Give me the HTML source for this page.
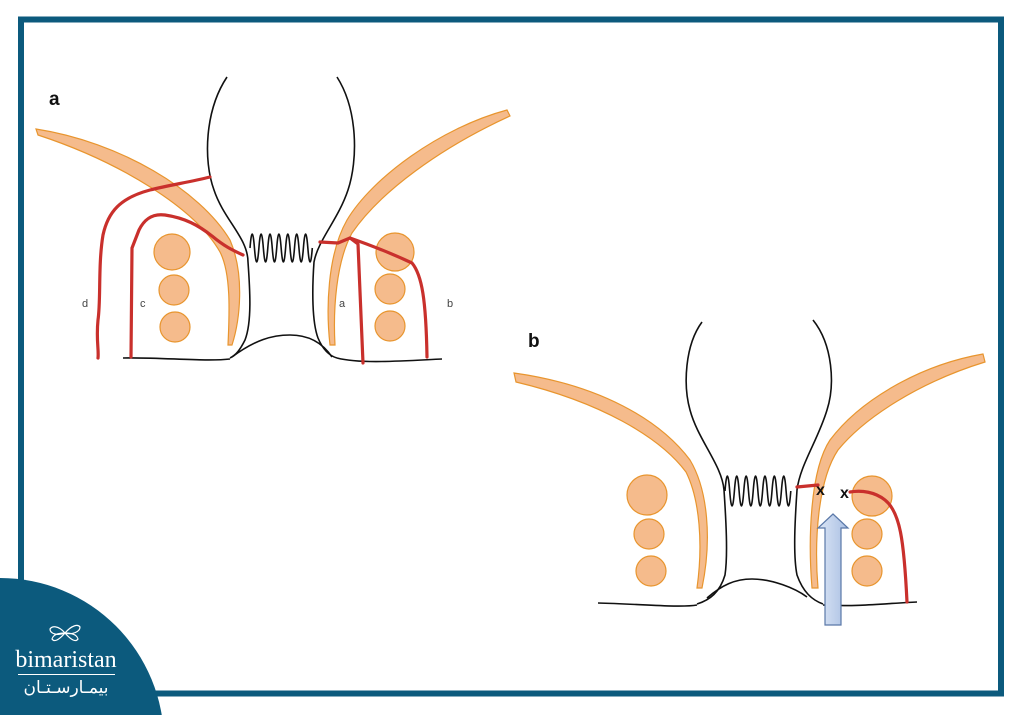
<!DOCTYPE html>
<html><head><meta charset="utf-8"><style>
html,body{margin:0;padding:0;background:#fff;width:1024px;height:715px;overflow:hidden}
svg{display:block;overflow:hidden;position:absolute;left:0;top:0}
</style></head><body>
<svg width="1024" height="715" viewBox="0 0 1024 715" xmlns="http://www.w3.org/2000/svg">
<rect x="0" y="0" width="1024" height="715" fill="#fff"/>
<rect x="21" y="19.5" width="980" height="674" fill="none" stroke="#0c5a7d" stroke-width="6"/>

<!-- ===== Diagram a ===== -->
<text x="49" y="105" font-family="Liberation Sans, sans-serif" font-weight="bold" font-size="19" fill="#111">a</text>
<path d="M36,129 C120,142 200,190 230,240 C245,275 240,320 232,345 L228,345 C229,320 232,275 220,252 C195,208 120,162 38,135 Z" fill="#f5bb8c" stroke="#e8952e" stroke-width="1.2"/>
<path d="M507,110 C440,128 372,178 347,220 C327,255 326,310 330,345 L335,345 C333,310 336,262 352,233 C380,192 440,148 510,116 Z" fill="#f5bb8c" stroke="#e8952e" stroke-width="1.2"/>
<g fill="#f5bb8c" stroke="#e8952e" stroke-width="1.2">
<circle cx="172" cy="252" r="18"/><circle cx="174" cy="290" r="15"/><circle cx="175" cy="327" r="15"/>
<circle cx="395" cy="252" r="19"/><circle cx="390" cy="289" r="15"/><circle cx="390" cy="326" r="15"/>
</g>
<g fill="none" stroke="#111" stroke-width="1.6">
<path d="M227,77 C205,110 203,160 214,190 C224,220 248,238 248,262 C250,290 252,322 245,340 C240,350 236,355 230,358"/>
<path d="M337,77 C358,110 358,160 348,190 C338,220 318,240 314,262 C312,290 312,322 318,338 C323,350 330,356 337,358"/>
<path d="M123,358 C160,357 205,362 230,359"/>
<path d="M337,358 C360,364 400,361 442,359"/>
<path d="M232,357 C255,340 272,335 290,335 C308,335 322,342 332,357"/>
<path d="M250,248 q2.2,-28 4.45,0 t4.45,0 t4.45,0 t4.45,0 t4.45,0 t4.45,0 t4.45,0 t4.45,0 t4.45,0 t4.45,0 t4.45,0 t4.45,0 t4.45,0 t4.45,0"/>
</g>
<g fill="none" stroke="#c9302c" stroke-width="3.2" stroke-linecap="round" stroke-linejoin="round">
<path d="M210,177 C190,182 170,185 150,190 C120,198 108,212 103,235 C98,265 101,300 98,320 C96,340 99,350 98,358"/>
<path d="M243,255 C232,250 224,246 212,236 C198,225 185,218 165,215 C150,213 143,222 139,230 L132,248 L131,357"/>
<path d="M320,242 L338,243 L350,238 L358,244 L363,363"/>
<path d="M350,238 C370,245 395,255 412,263 C422,275 426,300 427,357"/>
</g>
<g font-family="Liberation Sans, sans-serif" font-size="11" fill="#444">
<text x="82" y="307">d</text><text x="140" y="307">c</text><text x="339" y="307">a</text><text x="447" y="307">b</text>
</g>

<!-- ===== Diagram b ===== -->
<text x="528" y="347" font-family="Liberation Sans, sans-serif" font-weight="bold" font-size="19" fill="#111">b</text>
<path d="M514,373 C600,385 660,420 690,460 C708,490 712,540 702,588 L697,588 C703,545 700,500 686,472 C660,437 600,402 516,382 Z" fill="#f5bb8c" stroke="#e8952e" stroke-width="1.2"/>
<path d="M983,354 C920,365 860,400 830,440 C810,470 808,540 812,588 L818,588 C814,540 818,480 838,450 C865,417 920,382 985,362 Z" fill="#f5bb8c" stroke="#e8952e" stroke-width="1.2"/>
<g fill="#f5bb8c" stroke="#e8952e" stroke-width="1.2">
<circle cx="647" cy="495" r="20"/><circle cx="649" cy="534" r="15"/><circle cx="651" cy="571" r="15"/>
<circle cx="872" cy="496" r="20"/><circle cx="867" cy="534" r="15"/><circle cx="867" cy="571" r="15"/>
</g>
<g fill="none" stroke="#111" stroke-width="1.6">
<path d="M702,322 C685,345 683,385 690,410 C698,440 722,465 724,490 C726,520 728,555 725,575 C720,592 710,600 697,604"/>
<path d="M813,320 C833,345 835,385 827,410 C818,440 800,465 797,490 C795,520 793,555 797,575 C803,592 812,600 823,604"/>
<path d="M598,603 C640,604 680,608 697,605"/>
<path d="M823,605 C860,607 890,603 917,602"/>
<path d="M707,598 C722,585 735,579 752,579 C772,579 795,588 807,597"/>
<path d="M725,491 q2.35,-30 4.7,0 t4.7,0 t4.7,0 t4.7,0 t4.7,0 t4.7,0 t4.7,0 t4.7,0 t4.7,0 t4.7,0 t4.7,0 t4.7,0 t4.7,0 t4.7,0"/>
</g>
<g fill="none" stroke="#c9302c" stroke-width="3.2" stroke-linecap="round">
<path d="M797,487 L818,485"/>
<path d="M850,492 C862,490 875,492 885,500 C900,512 904,540 907,602"/>
</g>
<g font-family="Liberation Sans, sans-serif" font-weight="bold" font-size="16" fill="#111">
<text x="816" y="495">x</text><text x="840" y="498">x</text>
</g>
<defs><linearGradient id="bl" x1="0" x2="1"><stop offset="0" stop-color="#dce6f5"/><stop offset="1" stop-color="#a9bfe3"/></linearGradient></defs>
<path d="M825,625 L825,528 L818,528 L833,514 L848,528 L841,528 L841,625 Z" fill="url(#bl)" stroke="#5a78a8" stroke-width="1.2"/>

<!-- ===== Logo ===== -->
<circle cx="0" cy="742" r="164" fill="#0c5a7d"/>
<g fill="none" stroke="#fff" stroke-width="1.2">
<path d="M65,633 C58,625 52,626 50,629 C50,634 58,636 65,633 Z"/>
<path d="M65,633 C58,641 54,642 52,639 C53,635 58,633 65,633 Z"/>
<path d="M65,633 C72,625 78,624 80,627 C80,632 72,635 65,633 Z"/>
<path d="M65,633 C72,641 76,642 78,639 C77,635 72,633 65,633 Z"/>
</g>
<text x="66" y="667" text-anchor="middle" font-family="Liberation Serif, serif" font-size="24" fill="#fff">bimaristan</text>
<rect x="18" y="674" width="97" height="1" fill="#fff"/>
<text x="66" y="693" text-anchor="middle" font-family="'DejaVu Sans', sans-serif" font-size="17" fill="#fff">بيمـارسـتـان</text>
</svg>
</body></html>
